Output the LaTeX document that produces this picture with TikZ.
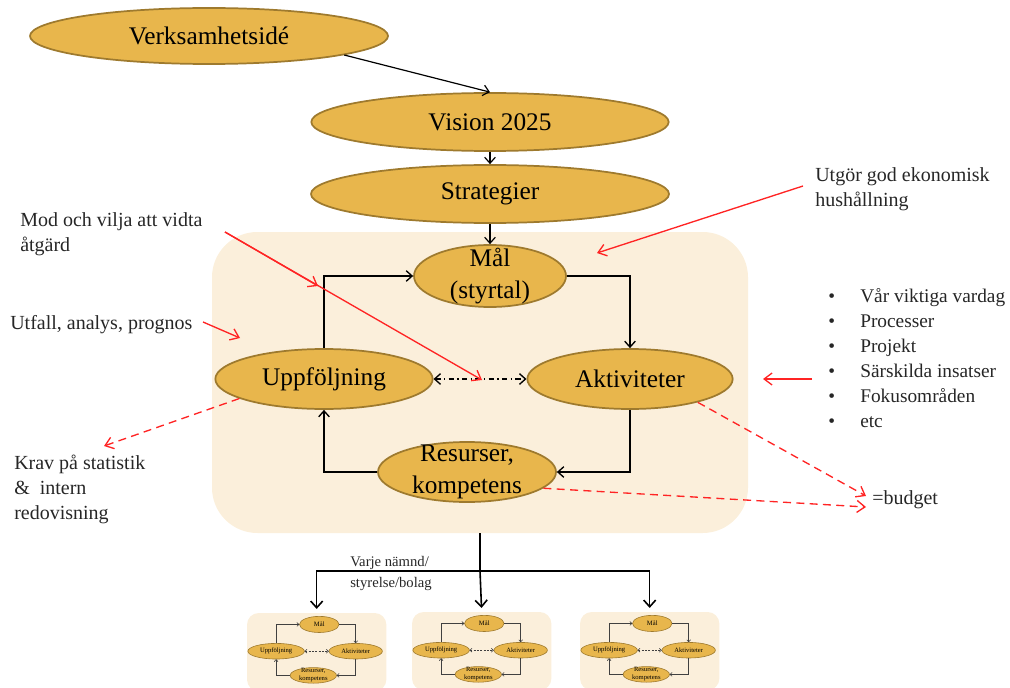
\documentclass[tikz,border=0pt]{standalone}
\usepackage{fontspec}
\setmainfont{Liberation Serif}
\usetikzlibrary{shapes.geometric, arrows.meta, calc}
\definecolor{ellfill}{HTML}{E8B64C}
\definecolor{ellline}{HTML}{9E7A2E}
\definecolor{bgfill}{HTML}{FBEFDB}
\definecolor{redarrow}{HTML}{FF2424}
\tikzset{
  ell/.style={ellipse, draw=ellline, fill=ellfill, line width=1.3pt, inner sep=0pt},
  elltxt/.style={font=\fontsize{19}{23.5}\selectfont, align=center, text=black, inner sep=0pt},
  blk/.style={draw=black, line width=0.9pt, -{Straight Barb[length=4.5pt,width=8pt]}},
  cyc/.style={draw=black, line width=1pt, -{Straight Barb[length=4.5pt,width=8pt]}},
  cycdd/.style={draw=black, line width=1pt, dash pattern=on 4pt off 2.5pt on 1pt off 2.5pt,
    {Straight Barb[length=4.5pt,width=8pt]}-{Straight Barb[length=4.5pt,width=8pt]}},
  bgbox/.style={fill=bgfill, rounded corners=34pt, inner sep=0pt},
  redarr/.style={draw=redarrow, line width=1pt, -{Straight Barb[length=6pt,width=9pt]}},
  reddash/.style={redarr, dash pattern=on 6pt off 4pt},
  tree/.style={draw=black, line width=1.2pt},
  treearr/.style={tree, -{Straight Barb[length=5pt,width=9pt]}},
  note/.style={font=\fontsize{15}{18.75}\selectfont, align=left, text=black!85, inner sep=0pt},
  small/.style={
    ell/.append style={line width=0.45pt},
    cyc/.style={draw=black!75, line width=0.45pt, -{Straight Barb[length=1.6pt,width=2.8pt]}},
    cycdd/.style={draw=black!75, line width=0.45pt, dash pattern=on 1.5pt off 1pt,
      {Straight Barb[length=1.6pt,width=2.8pt]}-{Straight Barb[length=1.6pt,width=2.8pt]}},
    bgbox/.append style={rounded corners=8.8pt}},
  pics/cycle/.style={code={
    \node[bgbox, minimum width=402pt, minimum height=225.75pt] (-bg) at (268,150.5) {};
    \node[ell, minimum width=114pt, minimum height=46.5pt, label={[elltxt]center:#1}] (-mal) at (278,44) {};
    \node[ell, minimum width=163pt, minimum height=45pt, label={[elltxt]center:Uppföljning}] (-upp) at (112,147) {};
    \node[ell, minimum width=154pt, minimum height=45pt, label={[elltxt]center:Aktiviteter}] (-akt) at (418,147) {};
    \node[ell, minimum width=133.5pt, minimum height=45pt, label={[elltxt]center:{Resurser,\\kompetens}}] (-res) at (255,240) {};
    \draw[cyc] (-upp.north) |- (-mal.west);
    \draw[cyc] (-mal.east) -| (-akt.north);
    \draw[cyc] (-akt.south) |- (-res.east);
    \draw[cyc] (-res.west) -| (-upp.south);
    \draw[cycdd] (-upp.east) -- (-akt.west);
  }}
}
\begin{document}
\begin{tikzpicture}[x=0.75pt, y=-0.75pt]
\useasboundingbox (0,0) rectangle (1010,688);
\clip (0,0) rectangle (1010,688);

% top chain
\node[ell, minimum width=268.5pt, minimum height=42pt, label={[elltxt]center:Verksamhetsidé}] (verk) at (209,36) {};
\node[ell, minimum width=268pt, minimum height=43.5pt, label={[elltxt]center:Vision 2025}] (vision) at (490,122) {};
\node[ell, minimum width=268.5pt, minimum height=43.5pt, label={[elltxt]center:Strategier}] (strat) at (490,194) {};

% main cycle
\pic (main) at (212,232) {cycle={Mål\\(styrtal)}};

\draw[blk] (verk.-8.5) -- (vision.north);
\draw[blk] (vision.south) -- (strat.north);
\draw[blk] (strat.south) -- (main-mal.north);

% small copies
\begin{scope}[shift={(247,613)}, scale=0.26, transform shape, small]
  \pic (s1) at (0,0) {cycle=Mål};
\end{scope}
\begin{scope}[shift={(412,612)}, scale=0.26, transform shape, small]
  \pic (s2) at (0,0) {cycle=Mål};
\end{scope}
\begin{scope}[shift={(580,612)}, scale=0.26, transform shape, small]
  \pic (s3) at (0,0) {cycle=Mål};
\end{scope}

% tree to small copies
\coordinate (split) at (480,571);
\draw[tree] (main-bg.south) -- (split);
\draw[treearr, shorten >=3pt] (split) -| (s1-bg.north);
\draw[treearr, shorten >=3pt] (split) -- (s2-bg.north);
\draw[treearr, shorten >=3pt] (split) -| (s3-bg.north);
\node[note, font=\fontsize{11}{15.5}\selectfont, anchor=north west] (varje) at (350,556) {Varje nämnd/\\styrelse/bolag};

% annotations
\node[note, anchor=north west] (mod) at (20,212) {Mod och vilja att vidta\\åtgärd};
\node[note, anchor=north west] (utfall) at (10,315) {Utfall, analys, prognos};
\node[note, anchor=north west] (krav) at (14,455) {Krav på statistik\\\&\ \ intern\\redovisning};
\node[note, anchor=north west] (utgor) at (815,167) {Utgör god ekonomisk\\hushållning};
\node[note, anchor=north west, font=\fontsize{14.5}{18.75}\selectfont] (list) at (828,288) {%
  \makebox[24pt][l]{\textbullet}Vår viktiga vardag\\
  \makebox[24pt][l]{\textbullet}Processer\\
  \makebox[24pt][l]{\textbullet}Projekt\\
  \makebox[24pt][l]{\textbullet}Särskilda insatser\\
  \makebox[24pt][l]{\textbullet}Fokusområden\\
  \makebox[24pt][l]{\textbullet}etc};
\node[note, anchor=west] (budget) at (872,500) {=budget};

% red arrows
\coordinate (modA) at (225,232);
\coordinate (modB) at (318,286);
\coordinate (modC) at (482,380);
\draw[redarr] (modA) -- (modB);
\draw[redarr] (modA) -- (modC);
\coordinate (utfA) at (203,322);
\coordinate (utfB) at (240,338);
\draw[redarr] (utfA) -- (utfB);
\coordinate (utgA) at (803,186);
\coordinate (utgB) at (597,253);
\draw[redarr] (utgA) -- (utgB);
\coordinate (listA) at (812,379);
\coordinate (listB) at (763,379);
\draw[redarr] (listA) -- (listB);
\coordinate (kravtip) at (104,446);
\draw[reddash] (main-upp.193) -- (kravtip);
\coordinate (b1) at (866,496);
\coordinate (b2) at (866,507);
\draw[reddash] (main-akt.-19) -- (b1);
\draw[reddash] (main-res.-12) -- (b2);
\end{tikzpicture}
\end{document}
